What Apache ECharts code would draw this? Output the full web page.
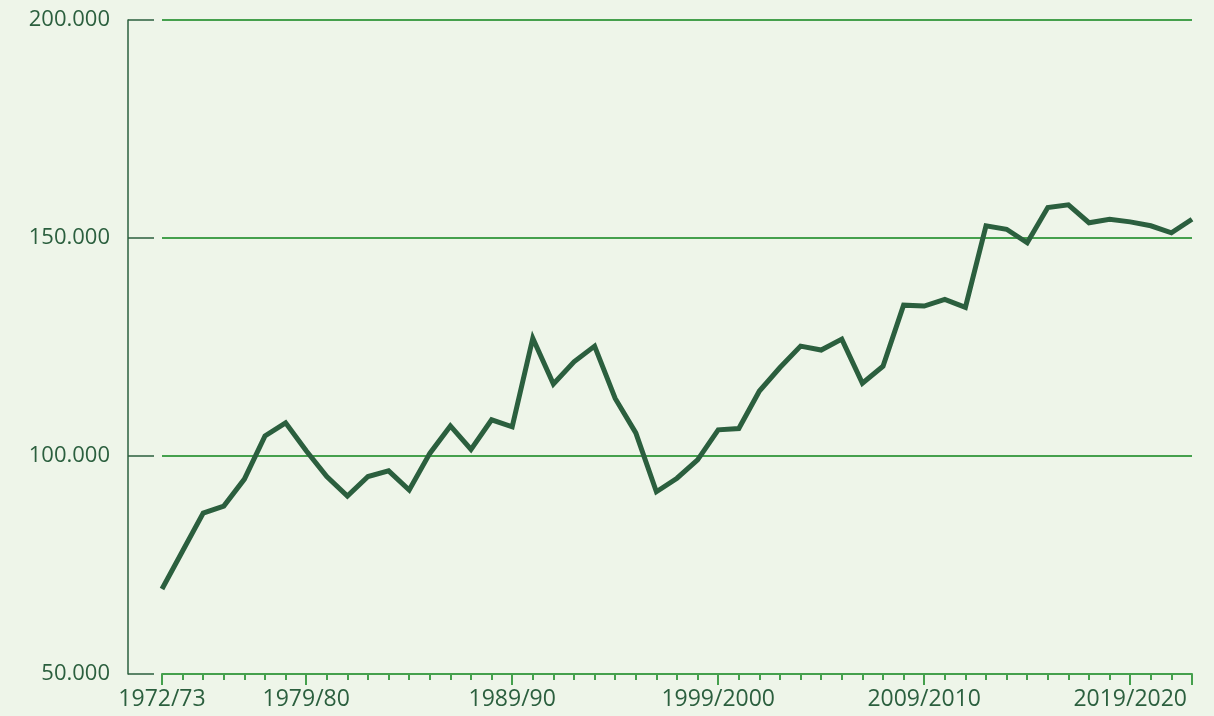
<!DOCTYPE html>
<html>
<head>
<meta charset="utf-8">
<script src="https://cdn.jsdelivr.net/npm/echarts@6/dist/echarts.min.js"></script>
<style>
  html, body { margin: 0; padding: 0; background: #eef5e9; }
  #chart { width: 1214px; height: 716px; }
</style>
</head>
<body>
<div id="chart"></div>
<script>
// school years
const years = [
  '1972/73', '1973/74', '1974/75', '1975/76', '1976/77', '1977/78', '1978/79', '1979/80',
  '1980/81', '1981/82', '1982/83', '1983/84', '1984/85', '1985/86', '1986/87', '1987/88',
  '1988/89', '1989/90', '1990/91', '1991/92', '1992/93', '1993/94', '1994/95', '1995/96',
  '1996/97', '1997/98', '1998/99', '1999/2000', '2000/01', '2001/02', '2002/03', '2003/04',
  '2004/05', '2005/06', '2006/07', '2007/08', '2008/09', '2009/2010', '2010/11', '2011/12',
  '2012/13', '2013/14', '2014/15', '2015/16', '2016/17', '2017/18', '2018/19', '2019/2020',
  '2020/21', '2021/22', '2022/23'
]
const values = [
  69500, 78200, 86900, 88500, 94700, 104600, 107600, 101200,
  95300, 90800, 95300, 96600, 92200, 100600, 106900, 101500,
  108300, 106700, 127000, 116500, 121600, 125200, 113200, 105300,
  91800, 94900, 99100, 106000, 106300, 114900, 120300, 125200,
  124300, 126800, 116700, 120600, 134600, 134400, 135900, 134100,
  152800, 152000, 148900, 157000, 157600, 153500, 154300, 153700,
  152800, 151200, 154300
]
const labelIdx = [0, 7, 17, 27, 37, 47]
const majorTickIdx = [0, 7, 17, 27, 37, 47, 50]
const yTicks = [50000, 100000, 150000, 200000]

const dark = '#2b5f3e'
const green = '#45a04d'
const font = 'Open Sans'

const chart = echarts.init(document.getElementById('chart'))
chart.setOption({
  backgroundColor: '#eef5e9',
  animation: false,
  grid: { left: 162, right: 22, top: 20, bottom: 42 },
  xAxis: [
    {
      type: 'category',
      data: years,
      boundaryGap: false,
      axisLine: { lineStyle: { color: green, width: 2 } },
      axisTick: { interval: 0, length: 6, lineStyle: { color: green, width: 2 } },
      axisLabel: {
        interval: (i) => labelIdx.includes(i),
        margin: 14,
        color: dark,
        fontFamily: font,
        fontSize: 23
      },
      splitLine: { show: false }
    },
    {
      type: 'category',
      data: years,
      boundaryGap: false,
      position: 'bottom',
      axisLine: { show: false },
      axisTick: {
        interval: (i) => majorTickIdx.includes(i),
        length: 11,
        lineStyle: { color: green, width: 2 }
      },
      axisLabel: { show: false },
      splitLine: { show: false }
    }
  ],
  yAxis: {
    type: 'value',
    min: yTicks[0],
    max: yTicks[yTicks.length - 1],
    interval: 50000,
    offset: 34,
    axisLine: { show: true, lineStyle: { color: dark, width: 1.5 } },
    axisTick: { show: true, inside: true, length: 26, lineStyle: { color: dark, width: 1.5 } },
    axisLabel: {
      margin: 18,
      color: dark,
      fontFamily: font,
      fontSize: 22,
      formatter: (v) => (v / 1000) + '.000'
    },
    splitLine: { show: true, lineStyle: { color: green, width: 1.8 } }
  },
  series: [
    {
      type: 'line',
      data: values,
      xAxisIndex: 0,
      symbol: 'none',
      lineStyle: { color: dark, width: 5, join: 'miter' }
    }
  ]
})
</script>
</body>
</html>
